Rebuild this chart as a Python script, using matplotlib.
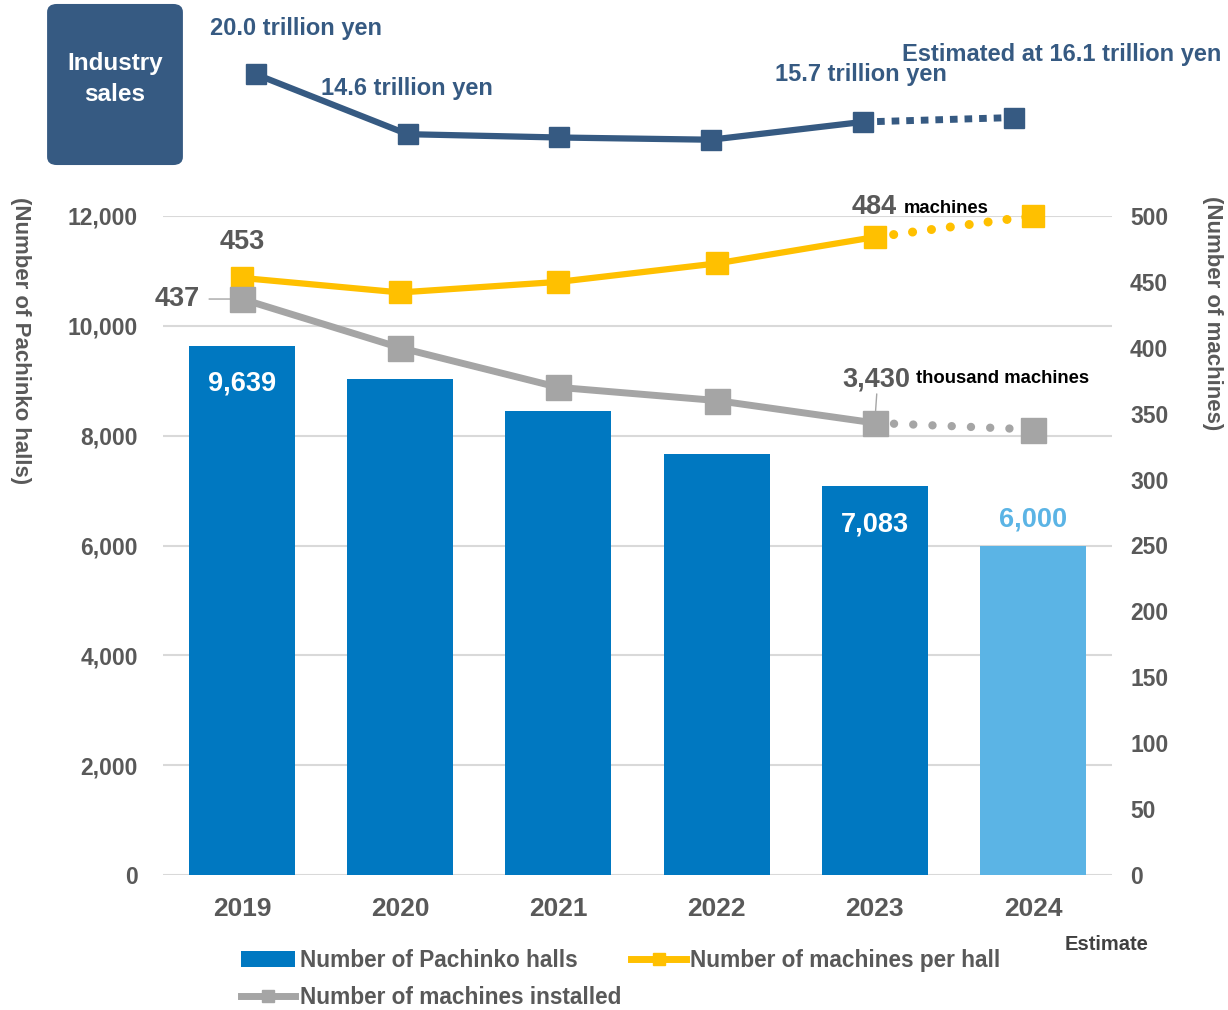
import matplotlib
matplotlib.use("Agg")
import matplotlib.pyplot as plt
from matplotlib.patches import FancyBboxPatch, Rectangle
from matplotlib.lines import Line2D

plt.rcParams['font.family'] = ['Liberation Sans', 'DejaVu Sans']
plt.rcParams['font.weight'] = 'bold'

# ---- data ----
years = ["2019", "2020", "2021", "2022", "2023", "2024"]
halls = [9639, 9035, 8450, 7660, 7083, 6000]
machines_per_hall = [453, 442, 450, 464, 484, 500]
machines_installed = [4370, 4000, 3700, 3600, 3430, 3380]   # thousand machines
sales = [20.0, 14.6, 14.3, 14.1, 15.7, 16.1]                 # trillion yen

left_ticks = [0, 2000, 4000, 6000, 8000, 10000, 12000]
right_ticks = [0, 50, 100, 150, 200, 250, 300, 350, 400, 450, 500]

BLUE = "#0078C1"
LIGHT_BLUE = "#5BB4E5"
YELLOW = "#FFC000"
GRAY = "#A5A5A5"
NAVY = "#365A82"
TXT = "#595959"

W, H = 1228, 1010
fig = plt.figure(figsize=(W / 100, H / 100), dpi=100)


def fx(x):
    return x / W


def fy(y):
    return 1 - y / H


# ---- main chart ----
ax = fig.add_axes([fx(163), fy(875), fx(1112) - fx(163), fy(216) - fy(875)])
x = list(range(len(years)))
bar_colors = [BLUE] * 5 + [LIGHT_BLUE]
ax.bar(x, halls, width=0.67, color=bar_colors, zorder=2)
ax.set_xlim(-0.5, 5.5)
ax.set_ylim(0, 12000)
ax.set_yticks(left_ticks)
ax.set_yticklabels([f"{v:,}" for v in left_ticks])
ax.set_xticks(x)
ax.set_xticklabels(years, fontsize=19, color=TXT, fontweight='bold')
ax.tick_params(axis='y', length=0, pad=18, labelsize=16.5, labelcolor=TXT)
ax.tick_params(axis='x', length=0, pad=15.5)
ax.grid(axis='y', color="#D9D9D9", linewidth=1.5, zorder=0)
for s in ax.spines.values():
    s.set_visible(False)
fig.text(fx(20), fy(341), "(Number of Pachinko halls)", rotation=270, fontsize=16,
         color=TXT, fontweight='bold', ha='center', va='center')

ax2 = ax.twinx()
ax2.set_ylim(0, 500)
ax2.set_yticks(right_ticks)
ax2.tick_params(axis='y', length=0, pad=13, labelsize=16.5, labelcolor=TXT)
for s in ax2.spines.values():
    s.set_visible(False)
fig.text(fx(1212), fy(313), "(Number of machines)", rotation=270, fontsize=16,
         color=TXT, fontweight='bold', ha='center', va='center')

inst = [v / 10 for v in machines_installed]

# machines per hall: solid through 2023, dotted to the 2024 estimate
ax2.plot(x[:5], machines_per_hall[:5], color=YELLOW, lw=4.5, marker='s', ms=16,
         zorder=3, clip_on=False)
ax2.plot(x[4:], machines_per_hall[4:], color=YELLOW, lw=6.5,
         linestyle=(0, (0.01, 2.1)), dash_capstyle='round', zorder=3, clip_on=False)
ax2.plot([x[5]], [machines_per_hall[5]], color=YELLOW, marker='s', ms=16,
         lw=0, zorder=3, clip_on=False)

# machines installed
ax2.plot(x[:5], inst[:5], color=GRAY, lw=5, marker='s', ms=18, zorder=4, clip_on=False)
ax2.plot(x[4:], inst[4:], color=GRAY, lw=6,
         linestyle=(0, (0.01, 2.3)), dash_capstyle='round', zorder=4, clip_on=False)
ax2.plot([x[5]], [inst[5]], color=GRAY, marker='s', ms=18, lw=0, zorder=4, clip_on=False)

# value labels
lab = dict(ha='center', va='center', fontweight='bold', textcoords='offset pixels')
ax.annotate(f"{halls[0]:,}", (x[0], halls[0]), xytext=(0, -38), color='white',
            fontsize=19.5, zorder=5, **lab)
ax.annotate(f"{halls[4]:,}", (x[4], halls[4]), xytext=(0, -38), color='white',
            fontsize=19.5, zorder=5, **lab)
ax.annotate(f"{halls[5]:,}", (x[5], halls[5]), xytext=(0, 26), color=LIGHT_BLUE,
            fontsize=19.5, zorder=5, **lab)

ax2.annotate(f"{machines_per_hall[0]}", (x[0], machines_per_hall[0]), xytext=(0, 36),
             color=TXT, fontsize=19.5, **lab)
ax2.annotate(f"{machines_installed[0] // 10}", (x[0], inst[0]), xytext=(-65, 0),
             color=TXT, fontsize=19.5, **lab)
ax2.annotate("", (x[0], inst[0]), xytext=(-33, 0), textcoords='offset pixels',
             arrowprops=dict(arrowstyle='-', color=GRAY, lw=1, shrinkA=0, shrinkB=8))

ax2.annotate(f"{machines_per_hall[4]}", (x[4], machines_per_hall[4]), xytext=(-1, 30),
             color=TXT, fontsize=19.5, **lab)
ax2.annotate("machines", (x[4], machines_per_hall[4]), xytext=(71, 29),
             color='black', fontsize=13.3, **lab)
ax2.annotate(f"{machines_installed[4]:,}", (x[4], inst[4]), xytext=(2, 43),
             color=TXT, fontsize=19.5, **lab)
ax2.annotate("thousand machines", (x[4], inst[4]), xytext=(128, 44),
             color='black', fontsize=13.3, **lab)
ax2.annotate("", (x[4], inst[4]), xytext=(2, 29), textcoords='offset pixels',
             arrowprops=dict(arrowstyle='-', color=GRAY, lw=1, shrinkA=0, shrinkB=8))

# ---- industry sales strip ----
axs = fig.add_axes([fx(180), fy(170), fx(1090) - fx(180), fy(40) - fy(170)])
axs.set_xlim(-0.5, 5.5)
axs.set_ylim(11.37, 23.09)
axs.axis('off')
axs.plot(x[:5], sales[:5], color=NAVY, lw=4.5, marker='s', ms=14, zorder=3)
axs.plot(x[4:], sales[4:], color=NAVY, lw=5, linestyle=(0, (1.1, 1.0)), zorder=3)
axs.plot([x[5]], [sales[5]], color=NAVY, marker='s', ms=14, lw=0, zorder=3)

top = dict(ha='center', va='center', color=NAVY, fontsize=17, fontweight='bold')
fig.text(fx(296), fy(28), f"{sales[0]:.1f} trillion yen", **top)
fig.text(fx(407), fy(88), f"{sales[1]:.1f} trillion yen", **top)
fig.text(fx(861), fy(75), f"{sales[4]:.1f} trillion yen", **top)
fig.text(fx(1062), fy(54), f"Estimated at {sales[5]:.1f} trillion yen", **top)

box = FancyBboxPatch((fx(52), fy(161)), fx(178) - fx(52), fy(8) - fy(161),
                     boxstyle="round,pad=0.004,rounding_size=0.008",
                     transform=fig.transFigure, facecolor=NAVY, edgecolor='none')
fig.patches.append(box)
fig.text(fx(115), fy(79), "Industry\nsales", ha='center', va='center', color='white',
         fontsize=17.5, fontweight='bold', linespacing=1.45)

# ---- legend ----
handles = [
    Rectangle((0, 0), 1, 1, facecolor=BLUE),
    Line2D([], [], color=GRAY, lw=5, marker='s', ms=8),
    Line2D([], [], color=YELLOW, lw=5, marker='s', ms=8),
]
labels = ["Number of Pachinko halls", "Number of machines installed",
          "Number of machines per hall"]
fig.legend(handles, labels, loc='upper left', bbox_to_anchor=(fx(241), fy(949)),
           ncol=2, frameon=False, labelcolor=TXT, handlelength=2.4,
           handletextpad=0.2, columnspacing=0.45, labelspacing=0.62, borderpad=0,
           borderaxespad=0, prop={'weight': 'bold', 'size': 16.3})

fig.text(fx(1107), fy(945), "Estimate", ha='center', va='center', color='#404040',
         fontsize=14.5, fontweight='bold')

fig.savefig("out.png", dpi=100)
